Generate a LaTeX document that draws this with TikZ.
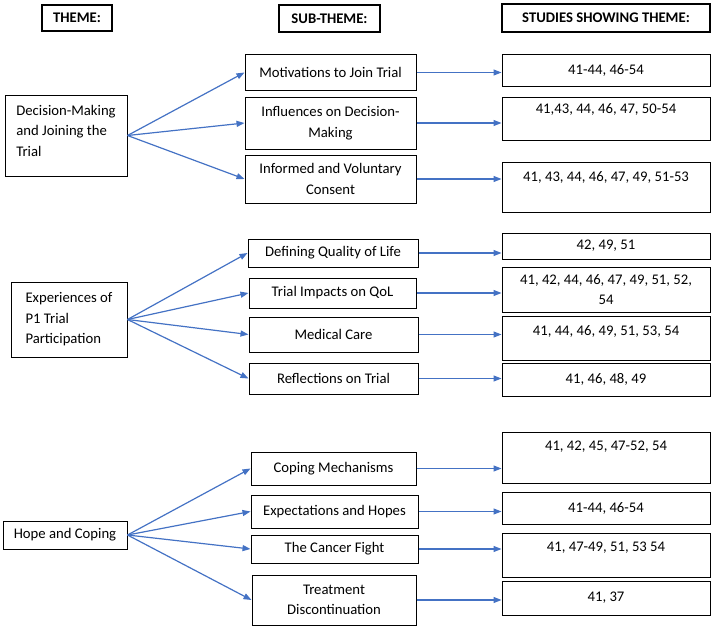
\documentclass[tikz,border=0pt]{standalone}
\usepackage{fontspec}
\setmainfont{Carlito}
\usetikzlibrary{arrows.meta}
\definecolor{linkblue}{HTML}{4472C4}
\newcommand{\boxfont}{\fontsize{14.7}{20.5}\selectfont}
\tikzset{
    box/.style={draw, line width=1pt, inner sep=0pt, align=center, font=\boxfont},
    headbox/.style={box, line width=1.2pt, font=\boxfont\bfseries},
    themebox/.style={box, align=left},
    toptext/.style={text height=10pt, text depth=#1},
    link/.style={draw=linkblue, line width=1.2pt, -{Triangle[length=8pt,width=6pt]}}
}
\begin{document}
\begin{tikzpicture}[x=1pt, y=-1pt]
    \useasboundingbox (0,0) rectangle (712,626);

    % headings
    \node[headbox, minimum width=70, minimum height=26] (hTheme) at (77,18) {THEME:};
    \node[headbox, minimum width=101, minimum height=27] (hSub) at (329.5,18.5) {SUB-THEME:};
    \node[headbox, minimum width=208, minimum height=28] (hStudies) at (606,18) {STUDIES SHOWING THEME:};

    % themes
    \node[themebox, text depth=10pt, minimum width=122, minimum height=81] (tDecision) at (66,135.5)
        {Decision-Making\\and Joining the\\Trial};
    \node[themebox, minimum width=116, minimum height=75] (tExper) at (69,319.5)
        {Experiences of\\P1 Trial\\Participation};
    \node[themebox, minimum width=124, minimum height=28] (tHope) at (65,535) {Hope and Coping};

    % sub-themes
    \node[box, minimum width=171, minimum height=35] (sMotiv) at (330.5,72.5) {Motivations to Join Trial};
    \node[box, minimum width=171, minimum height=52] (sInfl) at (330.5,123) {Influences on Decision-\\Making};
    \node[box, minimum width=171, minimum height=48] (sInform) at (330.5,179) {Informed and Voluntary\\Consent};
    \node[box, minimum width=170, minimum height=28] (sDefine) at (333,253) {Defining Quality of Life};
    \node[box, minimum width=167, minimum height=30] (sImpact) at (332.5,293) {Trial Impacts on QoL};
    \node[box, minimum width=169, minimum height=35] (sMedical) at (333.5,334.5) {Medical Care};
    \node[box, minimum width=169, minimum height=31] (sReflect) at (333.5,378.5) {Reflections on Trial};
    \node[box, minimum width=165, minimum height=33] (sCoping) at (333.5,468.5) {Coping Mechanisms};
    \node[box, minimum width=167, minimum height=33] (sExpect) at (334.5,511.5) {Expectations and Hopes};
    \node[box, minimum width=167, minimum height=28] (sFight) at (334.5,549) {The Cancer Fight};
    \node[box, minimum width=164, minimum height=50] (sStop) at (334,600) {Treatment\\Discontinuation};

    % studies
    \node[box, minimum width=208, minimum height=31] (nMotiv) at (606,70.5) {41-44, 46-54};
    \node[box, toptext=20pt, minimum width=208, minimum height=43] (nInfl) at (606,118.5) {41,43, 44, 46, 47, 50-54};
    \node[box, toptext=21pt, minimum width=208, minimum height=50] (nInform) at (606,187) {41, 43, 44, 46, 47, 49, 51-53};
    \node[box, minimum width=208, minimum height=26] (nDefine) at (606,246) {42, 49, 51};
    \node[box, minimum width=208, minimum height=45] (nImpact) at (606,289.5) {41, 42, 44, 46, 47, 49, 51, 52,\\54};
    \node[box, toptext=15pt, minimum width=208, minimum height=44] (nMedical) at (606,338) {41, 44, 46, 49, 51, 53, 54};
    \node[box, minimum width=208, minimum height=33] (nReflect) at (606,379.5) {41, 46, 48, 49};
    \node[box, toptext=24pt, minimum width=208, minimum height=51] (nCoping) at (606,457.5) {41, 42, 45, 47-52, 54};
    \node[box, minimum width=208, minimum height=32] (nExpect) at (606,508) {41-44, 46-54};
    \node[box, toptext=17pt, minimum width=208, minimum height=44] (nFight) at (606,555) {41, 47-49, 51, 53 54};
    \node[box, minimum width=208, minimum height=34] (nStop) at (606,598) {41, 37};

    % theme -> sub-theme
    \foreach \s in {sMotiv,sInfl,sInform}
        \draw[link] (tDecision.east) -- (\s.west);
    \foreach \s in {sDefine,sImpact,sMedical,sReflect}
        \draw[link] (tExper.east) -- (\s.west);
    \foreach \s in {sCoping,sExpect,sFight,sStop}
        \draw[link] (tHope.east) -- (\s.west);

    % sub-theme -> studies
    \foreach \s/\n in {sMotiv/nMotiv,sInfl/nInfl,sInform/nInform,sDefine/nDefine,sImpact/nImpact,
        sMedical/nMedical,sReflect/nReflect,sCoping/nCoping,sExpect/nExpect,sFight/nFight,sStop/nStop}
        \draw[link] (\s.east) -- (\s.east -| \n.west);
\end{tikzpicture}
\end{document}
